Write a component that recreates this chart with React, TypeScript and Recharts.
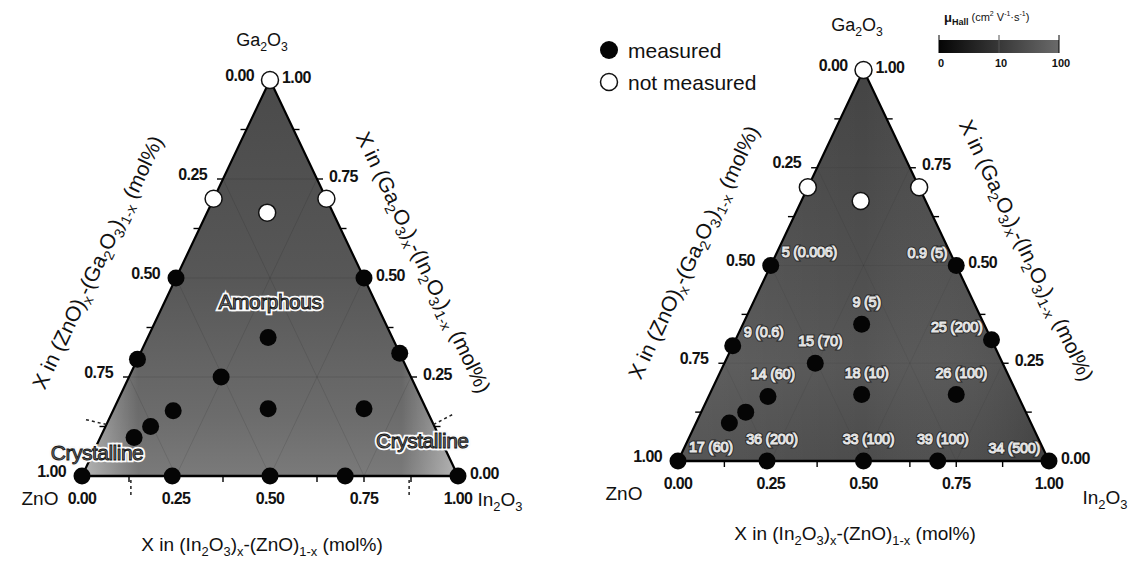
import React from 'react';
import { ComposedChart, Area, Scatter, XAxis, YAxis, ReferenceLine } from 'recharts';

// ---------- data (ternary compositions: In2O3 fraction, Ga2O3 fraction; ZnO = rest) ----------
const VERTEX_IN = [0, 0.5, 1];
const VERTEX_GA = [0, 1, 0];

const TICK_VALUES = [0, 0.25, 0.5, 0.75, 1];
const TICK_LABELS = ['0.00', '0.25', '0.50', '0.75', '1.00'];
const MINOR_TICKS = [0.125, 0.25, 0.375, 0.5, 0.625, 0.75, 0.875];
const GRID_VALUES = [0.25, 0.5, 0.75];

const MEASURED_IN = [0, 0.24, 0.5, 0.7, 1, 0, 0.5, 0, 0.69, 0.32, 0.245, 0.41, 0.665, 0.16, 0.12, 0.09];
const MEASURED_GA = [0, 0, 0, 0, 0, 0.5, 0.5, 0.295, 0.31, 0.35, 0.25, 0.17, 0.17, 0.165, 0.125, 0.097];
const HALL_LABELS = ['17 (60)', '36 (200)', '33 (100)', '39 (100)', '34 (500)', '5 (0.006)', '0.9 (5)', '9 (0.6)', '25 (200)', '9 (5)', '15 (70)', '18 (10)', '26 (100)', '14 (60)', '', ''];
const HALL_PLACE = ['r', 'c', 'c', 'c', 'l', 'r', 'l', 'r', 'l', 'c', 'c', 'c', 'c', 'c', '', ''];

const NOT_MEASURED_IN = [0, 0, 0.3, 0.16];
const NOT_MEASURED_GA = [1, 0.7, 0.7, 0.665];

const PHASE_LABELS = ['Amorphous', 'Crystalline', 'Crystalline'];
const PHASE_IN = [0.28, 0.01, 0.86];
const PHASE_GA = [0.44, 0.06, 0.09];
const CRYSTALLINE_LIMIT = 0.13;

const COLORBAR_TICKS = ['0', '10', '100'];

// ---------- helpers ----------
const FONT = '"Liberation Sans", Arial, Helvetica, sans-serif';
const cart = (a: number, g: number) => ({ x: a + g / 2, y: g });
const TRIANGLE = VERTEX_IN.map((a, i) => cart(a - VERTEX_GA[i] / 2, VERTEX_GA[i]));

function RichText({ x, y, text, size, anchor = 'middle', rotate = 0, weight = 'normal', fill = '#111' }: any) {
  const parts = text.split(/(_\{[^}]*\}|\^\{[^}]*\})/g).filter(Boolean);
  return (
    <text x={x} y={y} fontSize={size} fontFamily={FONT} fontWeight={weight} textAnchor={anchor}
      dominantBaseline="central" fill={fill} transform={rotate ? `rotate(${rotate} ${x} ${y})` : undefined}>
      {parts.map((p: string, i: number) => {
        if (p.startsWith('_{')) return <tspan key={i} baselineShift="sub" fontSize={size * 0.68}>{p.slice(2, -1)}</tspan>;
        if (p.startsWith('^{')) return <tspan key={i} baselineShift="super" fontSize={size * 0.68}>{p.slice(2, -1)}</tspan>;
        return <tspan key={i}>{p}</tspan>;
      })}
    </text>
  );
}

const TICK_DIR: any = { b: [0, 6], l: [-6, 0], r: [6, 0] };
const TickMark = (p: any) => {
  const d = TICK_DIR[p.payload.edge];
  return <line x1={p.cx} y1={p.cy} x2={p.cx + d[0]} y2={p.cy + d[1]} stroke="#000" strokeWidth={1.4} />;
};

const TickLabel = (p: any) => {
  const e = p.payload.edge;
  const dx = e === 'b' ? 0 : e === 'l' ? -16 : 12;
  const dy = e === 'b' ? 22 : e === 'l' ? -5 : -3;
  const anchor = e === 'b' ? 'middle' : e === 'l' ? 'end' : 'start';
  return (
    <text x={p.cx + dx} y={p.cy + dy} textAnchor={anchor} dominantBaseline="central" fontFamily={FONT}
      fontWeight="bold" fontSize={16} letterSpacing={-0.6} fill="#111">{p.payload.label}</text>
  );
};

const FilledDot = (p: any) => <circle cx={p.cx} cy={p.cy} r={8.5} fill="#050505" />;
const OpenDot = (p: any) => <circle cx={p.cx} cy={p.cy} r={8.5} fill="#fff" stroke="#111" strokeWidth={1.5} />;

const HallLabel = (p: any) => {
  const d = p.payload;
  if (!d.label) return <g />;
  const cfg: any = { c: ['middle', 5, -22], r: ['start', 11, -14], l: ['end', -9, -13] }[d.place];
  const common = {
    x: p.cx + cfg[1], y: p.cy + cfg[2], textAnchor: cfg[0], dominantBaseline: 'central',
    fontFamily: FONT, fontSize: 14.5, letterSpacing: -0.3,
  } as any;
  return (
    <g>
      <text {...common} fill="none" stroke="#2a2a2a" strokeWidth={3}>{d.label}</text>
      <text {...common} fill="#6a6a6a" stroke="#e6e6e6" strokeWidth={1.1}>{d.label}</text>
    </g>
  );
};

const PhaseLabel = (p: any) => {
  const common = {
    x: p.cx, y: p.cy, textAnchor: 'middle', dominantBaseline: 'central',
    fontFamily: FONT, fontSize: 21, letterSpacing: -0.5,
  } as any;
  return (
    <g>
      <text {...common} fill="none" stroke="#fafafa" strokeWidth={4.5}>{p.payload.label}</text>
      <text {...common} fill="#707070" stroke="#151515" strokeWidth={0.9}>{p.payload.label}</text>
    </g>
  );
};

const MARK_DIR: any = { b: [0, 4, 0, 21], l: [0, 0, -21, -5], r: [0, 0, 19, -10] };
const BoundaryMark = (p: any) => {
  const d = MARK_DIR[p.payload.edge];
  return <line x1={p.cx + d[0]} y1={p.cy + d[1]} x2={p.cx + d[2]} y2={p.cy + d[3]} stroke="#222" strokeWidth={1.5} strokeDasharray="3 3" />;
};

// derived series
const measured = MEASURED_IN.map((a, i) => ({ ...cart(a, MEASURED_GA[i]), label: HALL_LABELS[i], place: HALL_PLACE[i] }));
const notMeasured = NOT_MEASURED_IN.map((a, i) => cart(a, NOT_MEASURED_GA[i]));
const phases = PHASE_LABELS.map((l, i) => ({ ...cart(PHASE_IN[i], PHASE_GA[i]), label: l }));
const ticks = [
  ...MINOR_TICKS.map((t) => ({ ...cart(t, 0), edge: 'b' })),
  ...MINOR_TICKS.map((t) => ({ ...cart(0, t), edge: 'l' })),
  ...MINOR_TICKS.map((t) => ({ ...cart(1 - t, t), edge: 'r' })),
];
const tickLabels = [
  ...TICK_VALUES.map((v, i) => ({ ...cart(v, 0), edge: 'b', label: TICK_LABELS[i] })),
  ...TICK_VALUES.map((v, i) => ({ ...cart(0, 1 - v), edge: 'l', label: TICK_LABELS[i] })),
  ...TICK_VALUES.map((v, i) => ({ ...cart(1 - v, v), edge: 'r', label: TICK_LABELS[i] })),
];
const boundary = [
  { ...cart(0, CRYSTALLINE_LIMIT), edge: 'l' },
  { ...cart(CRYSTALLINE_LIMIT, 0), edge: 'b' },
  { ...cart(1 - CRYSTALLINE_LIMIT, CRYSTALLINE_LIMIT), edge: 'r' },
  { ...cart(1 - CRYSTALLINE_LIMIT, 0), edge: 'b' },
];
const gridSegments: any[] = [];
GRID_VALUES.forEach((v) => {
  gridSegments.push([cart(0, v), cart(1 - v, v)]);
  gridSegments.push([cart(v, 0), cart(v, 1 - v)]);
  gridSegments.push([cart(1 - v, 0), cart(0, 1 - v)]);
});

function Ternary({ id, width, height, margin, showHall, showPhases, gridOpacity }: any) {
  return (
    <ComposedChart width={width} height={height} data={TRIANGLE} margin={margin}>
      <XAxis type="number" dataKey="x" domain={[0, 1]} hide />
      <YAxis type="number" dataKey="y" domain={[0, 1]} hide />
      <Area type="linear" dataKey="y" stroke="none" fill={`url(#${id}V)`} fillOpacity={1} isAnimationActive={false} />
      <Area type="linear" dataKey="y" stroke="#000" strokeWidth={2.2} fill={`url(#${id}H)`} fillOpacity={1} isAnimationActive={false} />
      {gridSegments.map((s, i) => (
        <ReferenceLine key={i} segment={s} stroke="#000" strokeOpacity={gridOpacity} strokeWidth={1} />
      ))}
      <ReferenceLine y={0} stroke="#000" strokeWidth={2.6} />
      <Scatter data={ticks} shape={TickMark} isAnimationActive={false} />
      <Scatter data={tickLabels} shape={TickLabel} isAnimationActive={false} />
      {showPhases && <Scatter data={boundary} shape={BoundaryMark} isAnimationActive={false} />}
      {showPhases && <Scatter data={phases} shape={PhaseLabel} isAnimationActive={false} />}
      <Scatter data={measured} shape={FilledDot} isAnimationActive={false} />
      <Scatter data={notMeasured} shape={OpenDot} isAnimationActive={false} />
      {showHall && <Scatter data={measured} shape={HallLabel} isAnimationActive={false} />}
    </ComposedChart>
  );
}

export default function App() {
  return (
    <div style={{ position: 'absolute', left: 0, top: 0, width: 1129, height: 561, background: '#fff', overflow: 'hidden' }}>
      <svg width={0} height={0} style={{ position: 'absolute' }}>
        <defs>
          <linearGradient id="LV" x1="0" y1="0" x2="0" y2="1">
            <stop offset="0" stopColor="#4a4a4a" />
            <stop offset="0.5" stopColor="#575757" />
            <stop offset="0.85" stopColor="#6c6c6c" />
            <stop offset="1" stopColor="#7a7a7a" />
          </linearGradient>
          <linearGradient id="LH" x1="0" y1="0" x2="1" y2="0">
            <stop offset="0" stopColor="#fff" stopOpacity={0.45} />
            <stop offset="0.15" stopColor="#fff" stopOpacity={0} />
            <stop offset="0.85" stopColor="#fff" stopOpacity={0} />
            <stop offset="1" stopColor="#fff" stopOpacity={0.45} />
          </linearGradient>
          <linearGradient id="RV" x1="0" y1="0" x2="0" y2="1">
            <stop offset="0" stopColor="#444" />
            <stop offset="0.55" stopColor="#505050" />
            <stop offset="0.75" stopColor="#565656" />
            <stop offset="1" stopColor="#4c4c4c" />
          </linearGradient>
          <linearGradient id="RH" x1="0" y1="0" x2="1" y2="0">
            <stop offset="0" stopColor="#fff" stopOpacity={0.06} />
            <stop offset="0.5" stopColor="#fff" stopOpacity={0} />
            <stop offset="1" stopColor="#000" stopOpacity={0.15} />
          </linearGradient>
          <linearGradient id="CB" x1="0" y1="0" x2="1" y2="0">
            <stop offset="0" stopColor="#050505" />
            <stop offset="1" stopColor="#6a6a6a" />
          </linearGradient>
        </defs>
      </svg>

      <div style={{ position: 'absolute', left: 0, top: 0 }}>
        <Ternary id="L" width={560} height={561} margin={{ left: 82, right: 102, top: 80, bottom: 85 }} showPhases gridOpacity={0.1} />
      </div>
      <div style={{ position: 'absolute', left: 560, top: 0 }}>
        <Ternary id="R" width={569} height={561} margin={{ left: 118, right: 80, top: 70, bottom: 100 }} showHall gridOpacity={0.06} />
      </div>

      <svg width={1129} height={561} style={{ position: 'absolute', left: 0, top: 0, pointerEvents: 'none' }}>
        {/* left diagram titles */}
        <RichText x={262} y={40} text="Ga_{2}O_{3}" size={18} />
        <RichText x={40} y={498} text="ZnO" size={19} />
        <RichText x={500} y={499} text="In_{2}O_{3}" size={19} />
        <RichText x={262} y={544} text="X in (In_{2}O_{3})_{x}-(ZnO)_{1-x} (mol%)" size={19} />
        <RichText x={97} y={262} text="X in (ZnO)_{x}-(Ga_{2}O_{3})_{1-x} (mol%)" size={21} rotate={-64.6} />
        <RichText x={424} y={262} text="X in (Ga_{2}O_{3})_{x}-(In_{2}O_{3})_{1-x} (mol%)" size={21} rotate={64.6} />

        {/* right diagram titles */}
        <RichText x={857} y={25} text="Ga_{2}O_{3}" size={18} />
        <RichText x={624} y={493} text="ZnO" size={19} />
        <RichText x={1105} y={497} text="In_{2}O_{3}" size={19} />
        <RichText x={855} y={533} text="X in (In_{2}O_{3})_{x}-(ZnO)_{1-x} (mol%)" size={19} />
        <RichText x={693} y={252} text="X in (ZnO)_{x}-(Ga_{2}O_{3})_{1-x} (mol%)" size={21} rotate={-64.6} />
        <RichText x={1027} y={250} text="X in (Ga_{2}O_{3})_{x}-(In_{2}O_{3})_{1-x} (mol%)" size={21} rotate={64.6} />

        {/* legend */}
        <circle cx={609} cy={50} r={9} fill="#050505" />
        <RichText x={628} y={50} text="measured" size={21} anchor="start" />
        <circle cx={609} cy={82} r={8.5} fill="#fff" stroke="#111" strokeWidth={1.5} />
        <RichText x={628} y={82} text="not measured" size={21} anchor="start" />

        {/* colorbar */}
        <text x={944} y={17} fontFamily={FONT} fontSize={13} fontWeight="bold" dominantBaseline="central" fill="#111">
          μ<tspan baselineShift="sub" fontSize={9}>Hall</tspan>
          <tspan fontSize={11} fontWeight="normal" dx={3}>(cm</tspan><tspan fontSize={7} baselineShift="super" fontWeight="normal">2</tspan>
          <tspan fontSize={11} fontWeight="normal"> V</tspan><tspan fontSize={7} baselineShift="super" fontWeight="normal">-1</tspan>
          <tspan fontSize={11} fontWeight="normal">·s</tspan><tspan fontSize={7} baselineShift="super" fontWeight="normal">-1</tspan>
          <tspan fontSize={11} fontWeight="normal">)</tspan>
        </text>
        <rect x={939} y={40} width={120} height={13} fill="url(#CB)" />
        <line x1={939} y1={35} x2={939} y2={53} stroke="#000" strokeWidth={1} />
        <line x1={999} y1={35} x2={999} y2={53} stroke="#555" strokeWidth={1} />
        <line x1={1059} y1={35} x2={1059} y2={53} stroke="#000" strokeWidth={1} />
        {COLORBAR_TICKS.map((t, i) => (
          <text key={t} x={941 + i * 60} y={63} textAnchor="middle" dominantBaseline="central" fontFamily={FONT}
            fontSize={11} fontWeight="bold" fill="#111">{t}</text>
        ))}
      </svg>
    </div>
  );
}
